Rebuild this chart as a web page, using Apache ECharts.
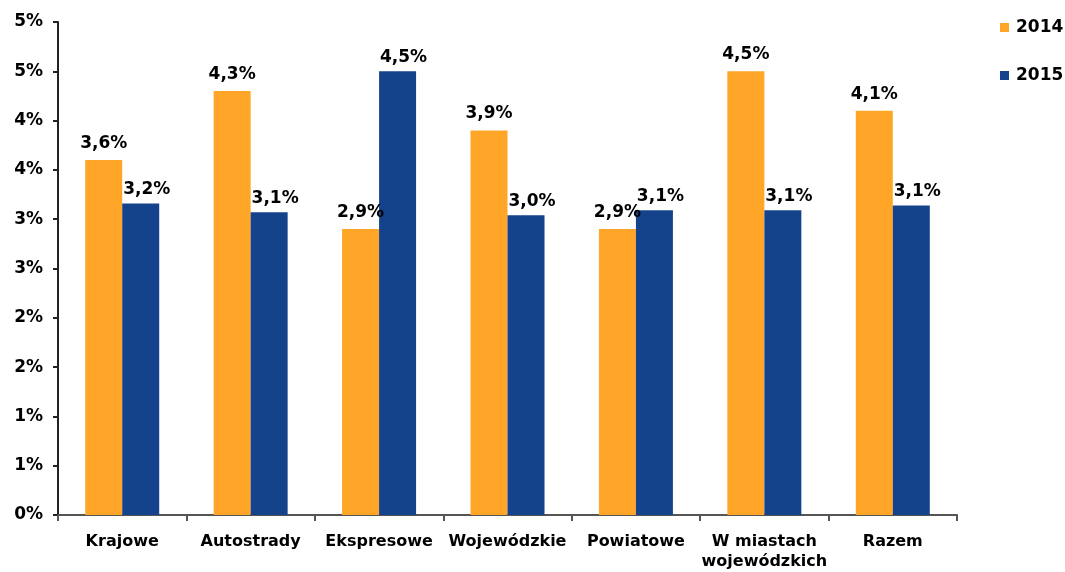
<!DOCTYPE html>
<html lang="pl">
<head>
<meta charset="UTF-8">
<title>Wykres</title>
<script src="https://cdn.jsdelivr.net/npm/echarts@6/dist/echarts.min.js"></script>
</head>
<body style="margin:0; background:#ffffff;">
<div id="chart" style="width:1065px; height:572px;"></div>
<script type="text/javascript">
    var categories = ['Krajowe', 'Autostrady', 'Ekspresowe', 'Wojewódzkie', 'Powiatowe', 'W miastach\nwojewódzkich', 'Razem'];
    var values2014 = [3.6, 4.3, 2.9, 3.9, 2.9, 4.5, 4.1];
    var values2015 = [3.16, 3.07, 4.5, 3.04, 3.09, 3.09, 3.14];
    var seriesNames = ['2014', '2015'];
    var colors = ['#FFA629', '#15438B'];

    var font = 'DejaVu Sans, Verdana, sans-serif';
    function pct(p) {
        return p.value.toFixed(1).replace('.', ',') + '%';
    }

    var myChart = echarts.init(document.getElementById('chart'));
    var option = {
        animation: false,
        color: colors,
        grid: {left: 58, right: 108, top: 22, bottom: 57},
        legend: {
            orient: 'vertical',
            left: 995,
            top: 14,
            itemWidth: 9,
            itemHeight: 9,
            itemGap: 31,
            icon: 'rect',
            data: seriesNames,
            textStyle: {fontFamily: font, fontWeight: 'bold', fontSize: 17, color: '#000', padding: [0, 0, 0, 2]}
        },
        xAxis: {
            type: 'category',
            data: categories,
            axisLine: {lineStyle: {color: '#555', width: 2}},
            axisTick: {show: true, length: 6, lineStyle: {color: '#555', width: 2}},
            axisLabel: {fontFamily: font, fontWeight: 'bold', fontSize: 16, color: '#000', margin: 17, lineHeight: 20, interval: 0}
        },
        yAxis: {
            type: 'value',
            min: 0,
            max: 5,
            interval: 0.5,
            splitLine: {show: false},
            axisLine: {show: true, lineStyle: {color: '#222', width: 2}},
            axisTick: {show: true, length: 5, lineStyle: {color: '#222', width: 2}},
            axisLabel: {
                fontFamily: font, fontWeight: 'bold', fontSize: 17, color: '#000', margin: 15,
                formatter: function (v) { return Math.round(v) + '%'; }
            }
        },
        series: [
            {
                name: seriesNames[0], type: 'bar', data: values2014,
                barWidth: 37, barGap: '0%',
                label: {show: true, position: 'top', distance: 8, formatter: pct,
                    fontFamily: font, fontWeight: 'bold', fontSize: 17, color: '#000'}
            },
            {
                name: seriesNames[1], type: 'bar', data: values2015,
                barWidth: 37,
                label: {show: true, position: 'top', distance: 5, offset: [6, 0], formatter: pct,
                    fontFamily: font, fontWeight: 'bold', fontSize: 17, color: '#000'}
            }
        ]
    };
    myChart.setOption(option);
</script>
</body>
</html>
